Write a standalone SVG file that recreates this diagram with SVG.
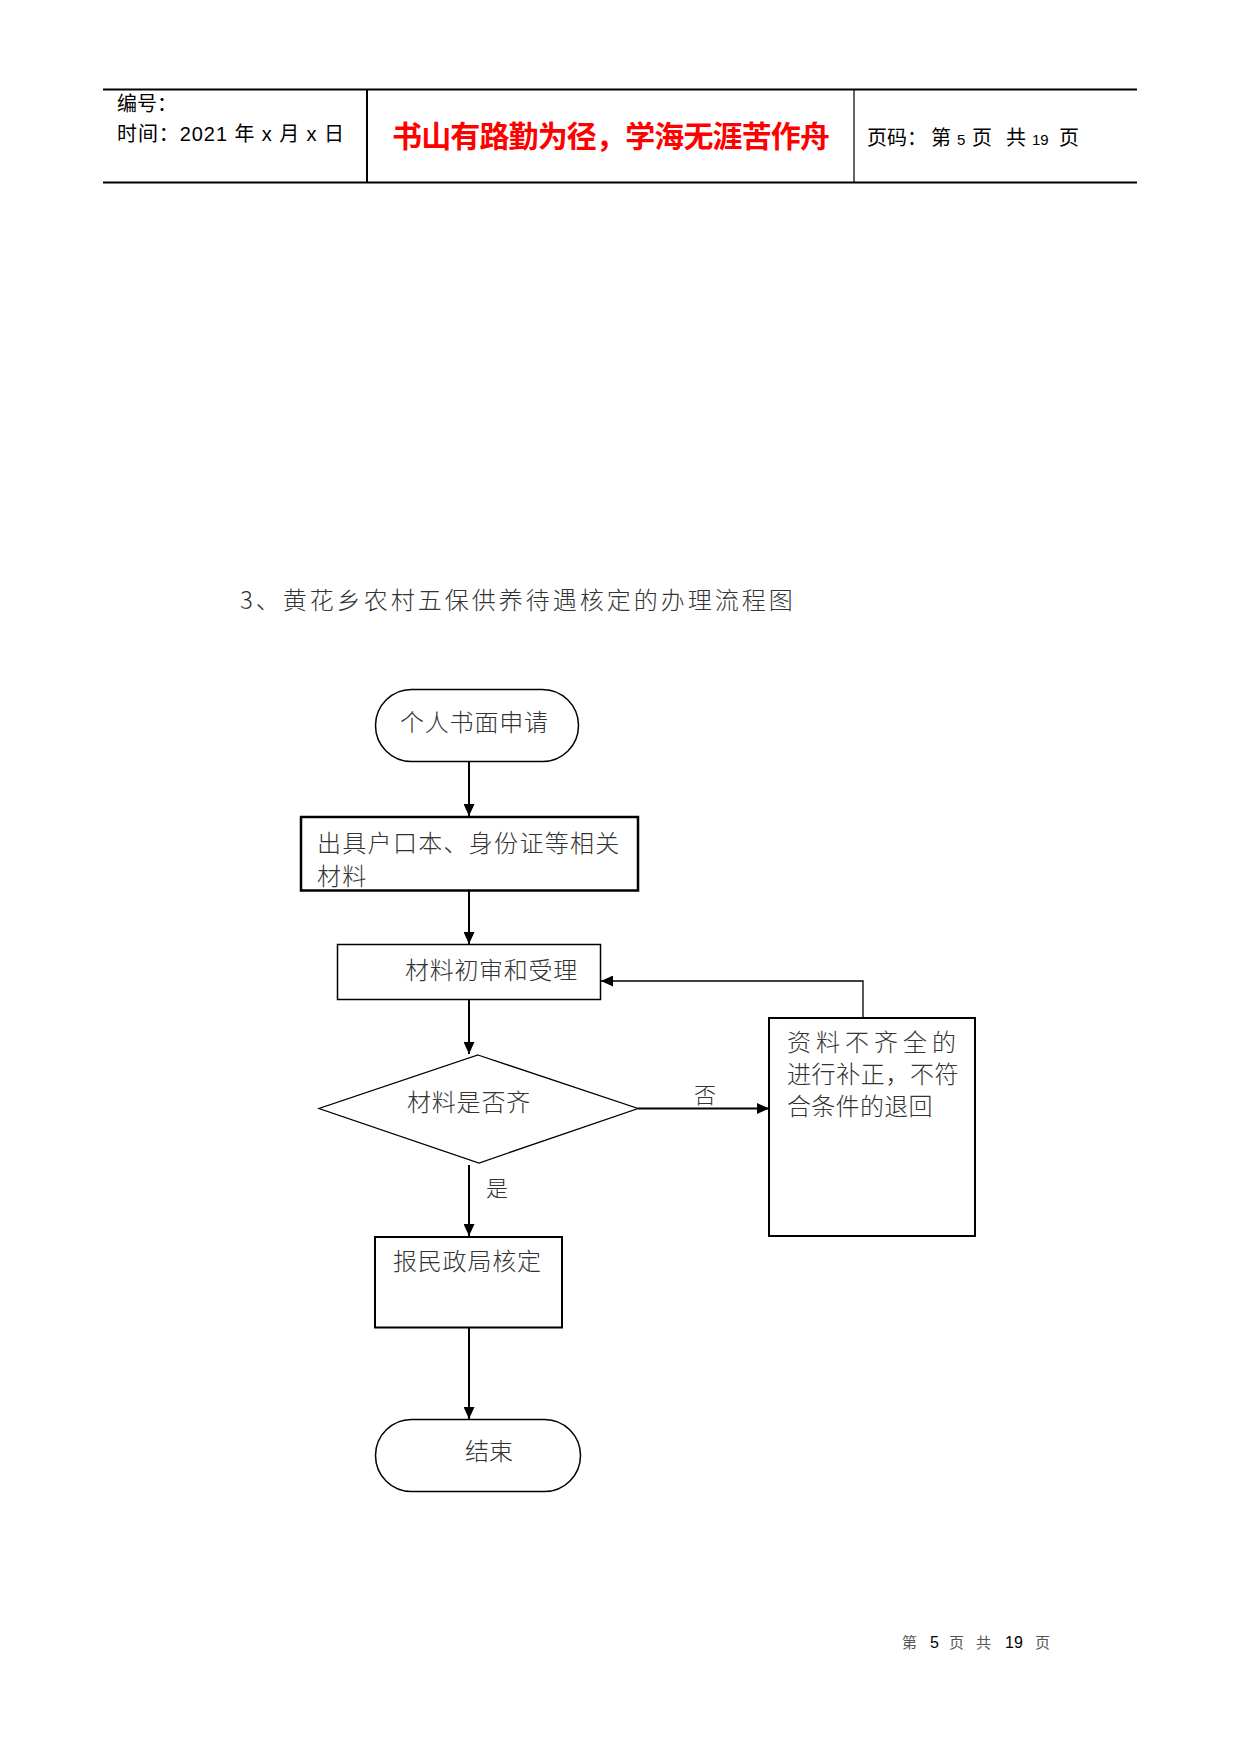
<svg xmlns="http://www.w3.org/2000/svg" width="1241" height="1754" viewBox="0 0 1241 1754">
<style>
  .hdr { font-family: "Liberation Sans", "Noto Sans CJK SC", sans-serif; font-size: 20px; fill: #000; }
  .motto { font-family: "Noto Sans CJK SC", sans-serif; font-size: 30px; font-weight: 700; fill: #FF0000; }
  .fc { font-family: "Noto Sans CJK SC", sans-serif; font-size: 24px; font-weight: 300; fill: #333; }
  .lbl { font-family: "Noto Sans CJK SC", sans-serif; font-size: 22px; font-weight: 300; fill: #333; }
  .title { font-family: "Noto Sans CJK SC", sans-serif; font-size: 24px; font-weight: 300; fill: #333; letter-spacing: 3px; }
  .foot { font-family: "Noto Sans CJK SC", sans-serif; font-size: 15px; fill: #555; }
  .footn { font-family: "Liberation Sans", sans-serif; font-size: 16px; fill: #000; }
  .shape { fill: #fff; stroke: #000; }
  .conn { fill: none; stroke: #000; stroke-width: 2; marker-end: url(#arrow); }
</style>
<defs>
  <marker id="arrow" viewBox="0 0 12 11" refX="12" refY="5.5" markerWidth="12" markerHeight="11" markerUnits="userSpaceOnUse" orient="auto">
    <path d="M0,0 L12,5.5 L0,11 Z" fill="#000"/>
  </marker>
</defs>
<rect width="1241" height="1754" fill="#fff"/>

<g id="header">
  <line x1="103" y1="89.5" x2="1137" y2="89.5" stroke="#000" stroke-width="2"/>
  <line x1="103" y1="182.5" x2="1137" y2="182.5" stroke="#000" stroke-width="2"/>
  <line x1="367" y1="89" x2="367" y2="183" stroke="#000" stroke-width="2"/>
  <line x1="854" y1="89" x2="854" y2="183" stroke="#000" stroke-width="1.2"/>
  <text class="hdr" x="117" y="111">编号：</text>
  <text class="hdr" x="117" y="141" textLength="227" lengthAdjust="spacing">时间：2021 年 x 月 x 日</text>
  <text class="motto" x="392" y="147" textLength="438" lengthAdjust="spacing">书山有路勤为径，学海无涯苦作舟</text>
  <text class="hdr" y="145"><tspan x="867">页码：</tspan><tspan x="931">第</tspan><tspan x="957" font-size="15">5</tspan><tspan x="972">页</tspan><tspan x="1006">共</tspan><tspan x="1032" font-size="15">19</tspan><tspan x="1059">页</tspan></text>
</g>

<text id="title" class="title" x="240" y="609">3、黄花乡农村五保供养待遇核定的办理流程图</text>

<g id="connectors">
  <line class="conn" x1="469" y1="762" x2="469" y2="816"/>
  <line class="conn" x1="469" y1="891" x2="469" y2="944"/>
  <line class="conn" x1="469" y1="1000" x2="469" y2="1054"/>
  <line class="conn" x1="638" y1="1108.5" x2="769" y2="1108.5"/>
  <line class="conn" x1="469" y1="1165" x2="469" y2="1236"/>
  <line class="conn" x1="469" y1="1328" x2="469" y2="1419"/>
  <polyline class="conn" style="stroke-width:1.3" points="863,1018 863,981 601,981"/>
  <text class="lbl" x="694" y="1103">否</text>
  <text class="lbl" x="486" y="1196">是</text>
</g>

<g id="start">
  <rect class="shape" x="375.5" y="689.5" width="203" height="72" rx="36" ry="36" stroke-width="1.5"/>
  <text class="fc" x="400" y="731" letter-spacing="0.8">个人书面申请</text>
</g>

<g id="materials">
  <rect class="shape" x="301" y="817" width="337" height="73.5" stroke-width="2.5"/>
  <text class="fc" x="317" y="852" letter-spacing="1.3">出具户口本、身份证等相关</text>
  <text class="fc" x="317" y="885" letter-spacing="1.3">材料</text>
</g>

<g id="review">
  <rect class="shape" x="337.5" y="944.5" width="263" height="55" stroke-width="1.5"/>
  <text class="fc" x="405" y="979" letter-spacing="0.7">材料初审和受理</text>
</g>

<g id="decision">
  <polygon class="shape" points="478,1055 638,1108.5 479,1163 319,1108.5" stroke-width="1.3"/>
  <text class="fc" x="407" y="1111" letter-spacing="0.8">材料是否齐</text>
</g>

<g id="reject">
  <rect class="shape" x="769" y="1018" width="206" height="218" stroke-width="2"/>
  <text class="fc" x="787" y="1051" letter-spacing="5">资料不齐全的</text>
  <text class="fc" x="787" y="1083" letter-spacing="0.6">进行补正，不符</text>
  <text class="fc" x="787" y="1114.5" letter-spacing="0.3">合条件的退回</text>
</g>

<g id="report">
  <rect class="shape" x="375" y="1237" width="187" height="90.5" stroke-width="2"/>
  <text class="fc" x="393" y="1269.5" letter-spacing="0.8">报民政局核定</text>
</g>

<g id="end">
  <rect class="shape" x="375.5" y="1419.5" width="205" height="72" rx="36" ry="36" stroke-width="1.5"/>
  <text class="fc" x="465" y="1459.5">结束</text>
</g>

<g id="footer">
  <text class="foot" x="902" y="1648">第</text>
  <text class="footn" x="930" y="1648">5</text>
  <text class="foot" x="949" y="1648">页</text>
  <text class="foot" x="976" y="1648">共</text>
  <text class="footn" x="1005" y="1648">19</text>
  <text class="foot" x="1035" y="1648">页</text>
</g>
</svg>
